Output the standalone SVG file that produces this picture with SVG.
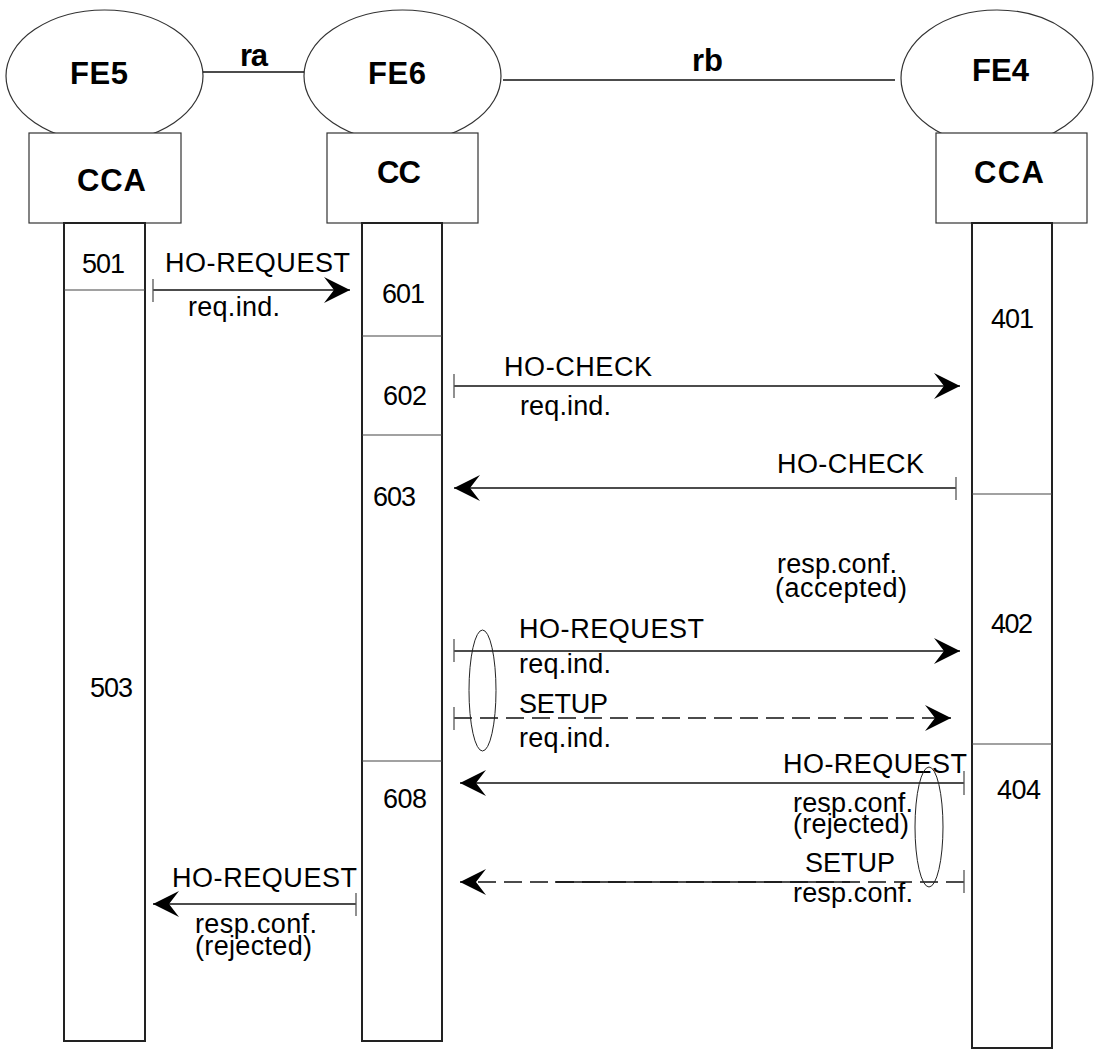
<svg xmlns="http://www.w3.org/2000/svg" width="1099" height="1050" viewBox="0 0 1099 1050">
<defs>
<marker id="ah" markerUnits="userSpaceOnUse" markerWidth="30" markerHeight="30" refX="26" refY="13" orient="auto" overflow="visible">
<path d="M26,13 L0,0 L10,13 L0,26 Z" fill="#000"/>
</marker>
<style>
.shape{fill:#fff;stroke:#333;stroke-width:1.2}
.ll{fill:#fff;stroke:#222;stroke-width:2}
.div{stroke:#444;stroke-width:1.2}
.msg{stroke:#111;stroke-width:1.3;fill:none}
.dash{stroke-dasharray:18 8}
.tick{stroke:#555;stroke-width:1.3}
.grp{fill:none;stroke:#222;stroke-width:1}
.hdr{font-family:"Liberation Sans",Arial,sans-serif;font-weight:bold;font-size:31px;fill:#000}
.t{font-family:"Liberation Sans",Arial,sans-serif;font-size:27px;fill:#000}
</style>
</defs>
<rect width="1099" height="1050" fill="#fff"/>

<g id="FE5">
<ellipse class="shape" cx="104.5" cy="76" rx="98.5" ry="66"/>
<rect class="shape" x="29" y="133" width="152" height="90"/>
<text class="hdr" x="70" y="84" textLength="58">FE5</text>
<text class="hdr" x="77" y="191" textLength="69">CCA</text>
<rect class="ll" x="64" y="223" width="81" height="818"/>
<line class="div" x1="64" y1="290" x2="145" y2="290"/>
<text class="t" x="82" y="273" textLength="43">501</text>
<text class="t" x="90" y="697" textLength="43">503</text>
</g>

<g id="FE6">
<ellipse class="shape" cx="402.5" cy="76" rx="98.5" ry="66"/>
<rect class="shape" x="327" y="133" width="151" height="90"/>
<text class="hdr" x="368" y="84" textLength="58">FE6</text>
<text class="hdr" x="377" y="183" textLength="44">CC</text>
<rect class="ll" x="362" y="223" width="80" height="818"/>
<line class="div" x1="362" y1="336" x2="442" y2="336"/>
<line class="div" x1="362" y1="435" x2="442" y2="435"/>
<line class="div" x1="362" y1="761" x2="442" y2="761"/>
<text class="t" x="382" y="303" textLength="43">601</text>
<text class="t" x="383" y="405" textLength="44">602</text>
<text class="t" x="373" y="506" textLength="43">603</text>
<text class="t" x="383" y="808" textLength="44">608</text>
</g>

<g id="FE4">
<ellipse class="shape" cx="997" cy="78" rx="96" ry="68"/>
<rect class="shape" x="936" y="133" width="151" height="90"/>
<text class="hdr" x="972" y="81" textLength="57">FE4</text>
<text class="hdr" x="974" y="183" textLength="70">CCA</text>
<rect class="ll" x="972" y="223" width="80" height="825"/>
<line class="div" x1="972" y1="494" x2="1052" y2="494"/>
<line class="div" x1="972" y1="744" x2="1052" y2="744"/>
<text class="t" x="991" y="328" textLength="43">401</text>
<text class="t" x="991" y="633" textLength="42">402</text>
<text class="t" x="997" y="799" textLength="44">404</text>
</g>

<g id="connectors">
<line class="msg" x1="203" y1="72" x2="304" y2="72"/>
<text class="hdr" x="240" y="66" textLength="28">ra</text>
<line class="msg" x1="503" y1="80" x2="895" y2="80"/>
<text class="hdr" x="692" y="71" textLength="31">rb</text>

<line class="msg" x1="153" y1="290" x2="350" y2="290" marker-end="url(#ah)"/>
<line class="tick" x1="153" y1="279" x2="153" y2="302"/>
<text class="t" x="165" y="272" textLength="185">HO-REQUEST</text>
<text class="t" x="188" y="316" textLength="92">req.ind.</text>

<line class="msg" x1="454" y1="386" x2="960" y2="386" marker-end="url(#ah)"/>
<line class="tick" x1="454" y1="374" x2="454" y2="398"/>
<text class="t" x="504" y="376" textLength="148">HO-CHECK</text>
<text class="t" x="520" y="415" textLength="91">req.ind.</text>

<line class="msg" x1="956" y1="488" x2="454" y2="488" marker-end="url(#ah)"/>
<line class="tick" x1="956" y1="477" x2="956" y2="500"/>
<text class="t" x="777" y="473" textLength="147">HO-CHECK</text>
<text class="t" x="777" y="573" textLength="120">resp.conf.</text>
<text class="t" x="775" y="597" textLength="132">(accepted)</text>

<line class="msg" x1="454" y1="651" x2="960" y2="651" marker-end="url(#ah)"/>
<line class="tick" x1="454" y1="639" x2="454" y2="662"/>
<text class="t" x="519" y="638" textLength="185">HO-REQUEST</text>
<text class="t" x="519" y="673" textLength="92">req.ind.</text>

<line class="msg dash" x1="454" y1="718" x2="951" y2="718" marker-end="url(#ah)"/>
<line class="tick" x1="454" y1="707" x2="454" y2="730"/>
<text class="t" x="519" y="713" textLength="89">SETUP</text>
<text class="t" x="519" y="747" textLength="92">req.ind.</text>
<ellipse class="grp" cx="482.5" cy="690.5" rx="13.5" ry="60.5"/>

<line class="msg" x1="964" y1="783" x2="460" y2="783" marker-end="url(#ah)"/>
<line class="tick" x1="964" y1="771" x2="964" y2="795"/>
<text class="t" x="783" y="773" textLength="184">HO-REQUEST</text>
<text class="t" x="793" y="812" textLength="120">resp.conf.</text>
<text class="t" x="793" y="833" textLength="116">(rejected)</text>

<line class="msg dash" x1="964" y1="882" x2="460" y2="882" marker-end="url(#ah)"/>
<line class="msg" x1="555" y1="882" x2="850" y2="882"/>
<line class="tick" x1="964" y1="870" x2="964" y2="893"/>
<text class="t" x="805" y="872" textLength="90">SETUP</text>
<text class="t" x="793" y="902" textLength="120">resp.conf.</text>
<ellipse class="grp" cx="929" cy="827" rx="14" ry="60"/>

<line class="msg" x1="356" y1="904" x2="153" y2="904" marker-end="url(#ah)"/>
<line class="tick" x1="356" y1="893" x2="356" y2="916"/>
<text class="t" x="172" y="887" textLength="185">HO-REQUEST</text>
<text class="t" x="195" y="933" textLength="122">resp.conf.</text>
<text class="t" x="195" y="955" textLength="117">(rejected)</text>
</g>
</svg>
